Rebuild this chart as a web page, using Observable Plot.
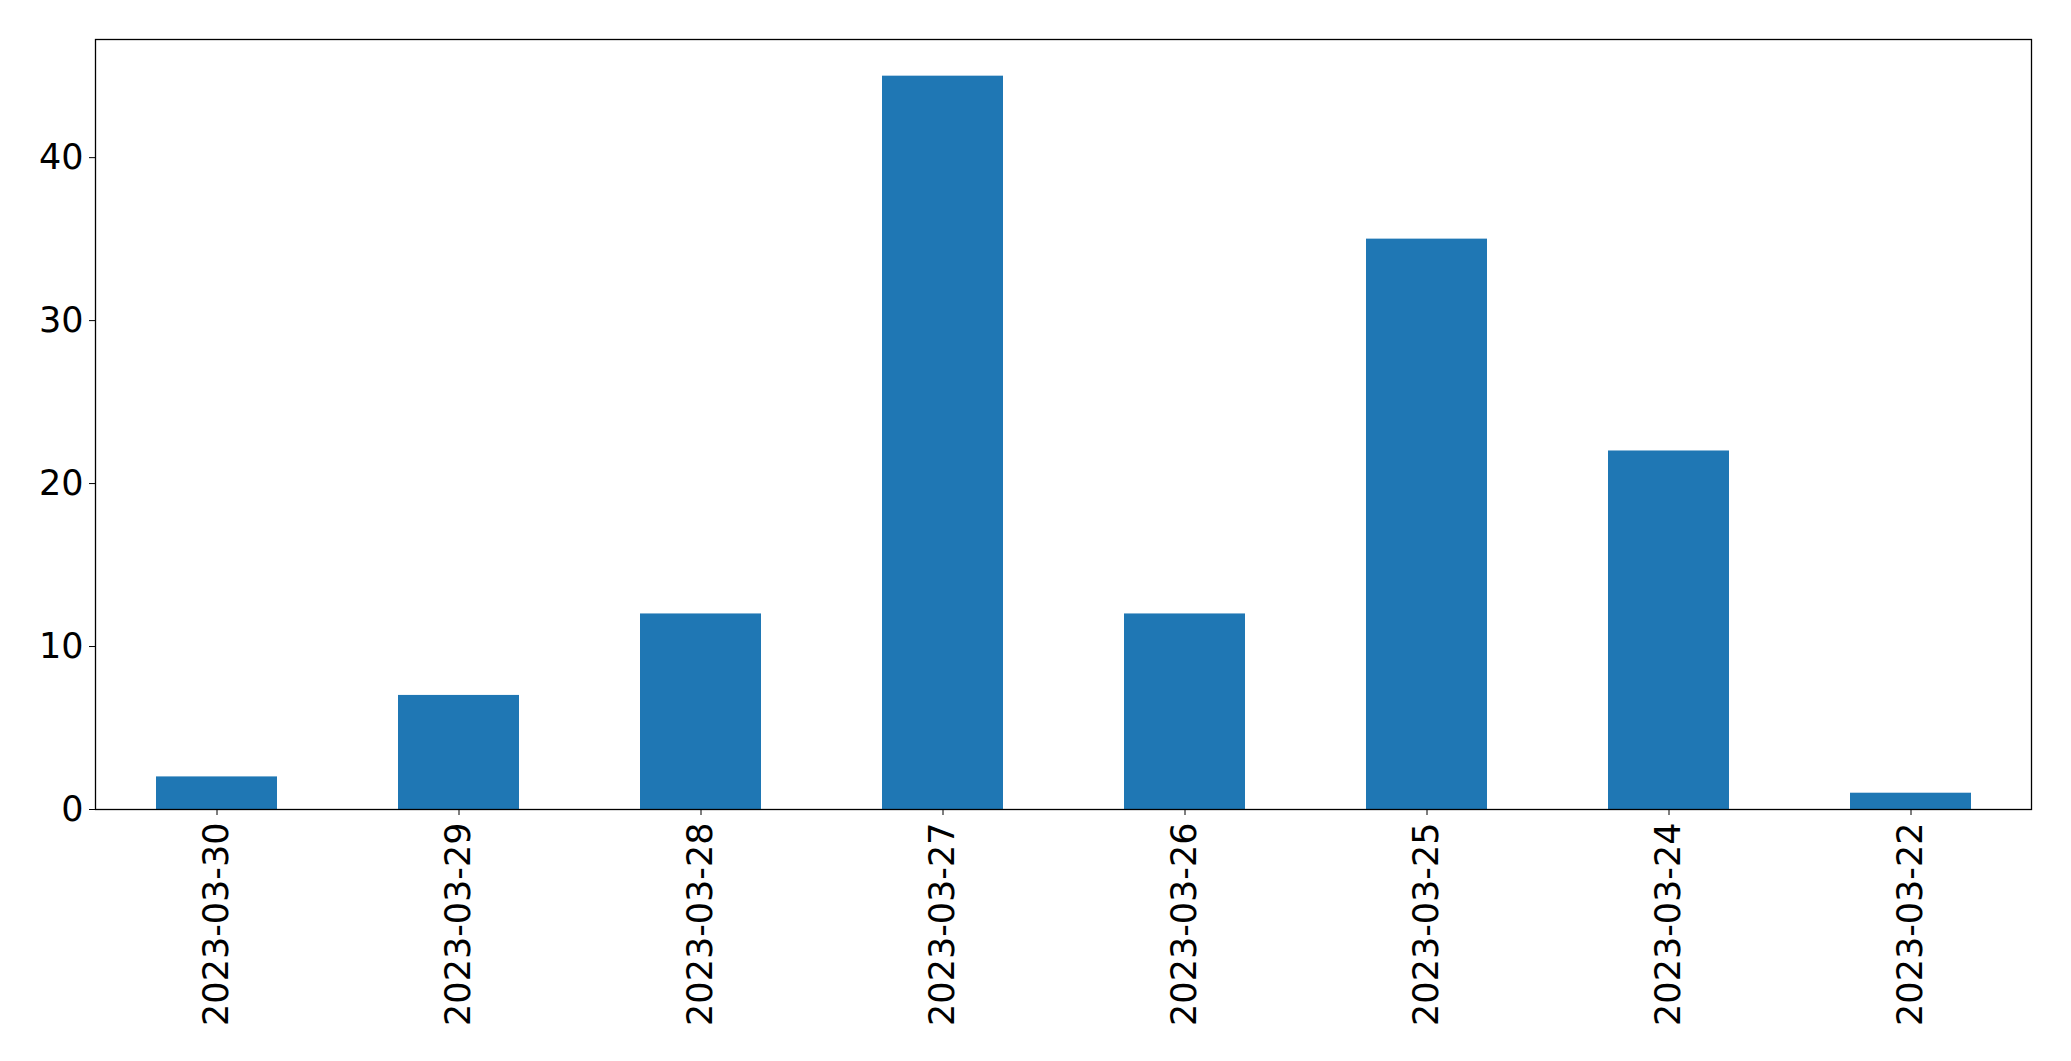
<!DOCTYPE html>
<html>
<head>
<meta charset="utf-8">
<script src="https://cdn.jsdelivr.net/npm/d3@7"></script>
<script src="https://cdn.jsdelivr.net/npm/@observablehq/plot@0.6"></script>
<style>
  html, body { margin: 0; padding: 0; background: white; overflow: hidden; }
  #chart svg { display: block; }
</style>
</head>
<body>
<div id="chart"></div>
<script>
const dates = ["2023-03-30", "2023-03-29", "2023-03-28", "2023-03-27", "2023-03-26", "2023-03-25", "2023-03-24", "2023-03-22"];
const counts = [2, 7, 12, 45, 12, 35, 22, 1];
const yTicks = [0, 10, 20, 30, 40];

const data = dates.map((d, i) => ({date: d, count: counts[i]}));

const chart = Plot.plot({
  width: 2071,
  height: 1061,
  marginLeft: 95,
  marginRight: 40,
  marginTop: 39,
  marginBottom: 252,
  style: {fontFamily: "DejaVu Sans", fontSize: "35px", background: "white", color: "black"},
  x: {domain: dates, paddingInner: 0.5, paddingOuter: 0.25, label: null},
  y: {domain: [0, 47.25], label: null},
  marks: [
    Plot.barY(data, {x: "date", y: "count", fill: "#1f77b4"}),
    Plot.frame({stroke: "black", strokeWidth: 1.3}),
    Plot.axisY({ticks: yTicks, tickSize: 6, tickPadding: 6, fontSize: 35, label: null, tickFormat: d => String(d)}),
    Plot.axisX({tickSize: 6, tickPadding: 7, tickRotate: -90, fontSize: 35, label: null})
  ]
});
document.getElementById("chart").appendChild(chart);
</script>
</body>
</html>
